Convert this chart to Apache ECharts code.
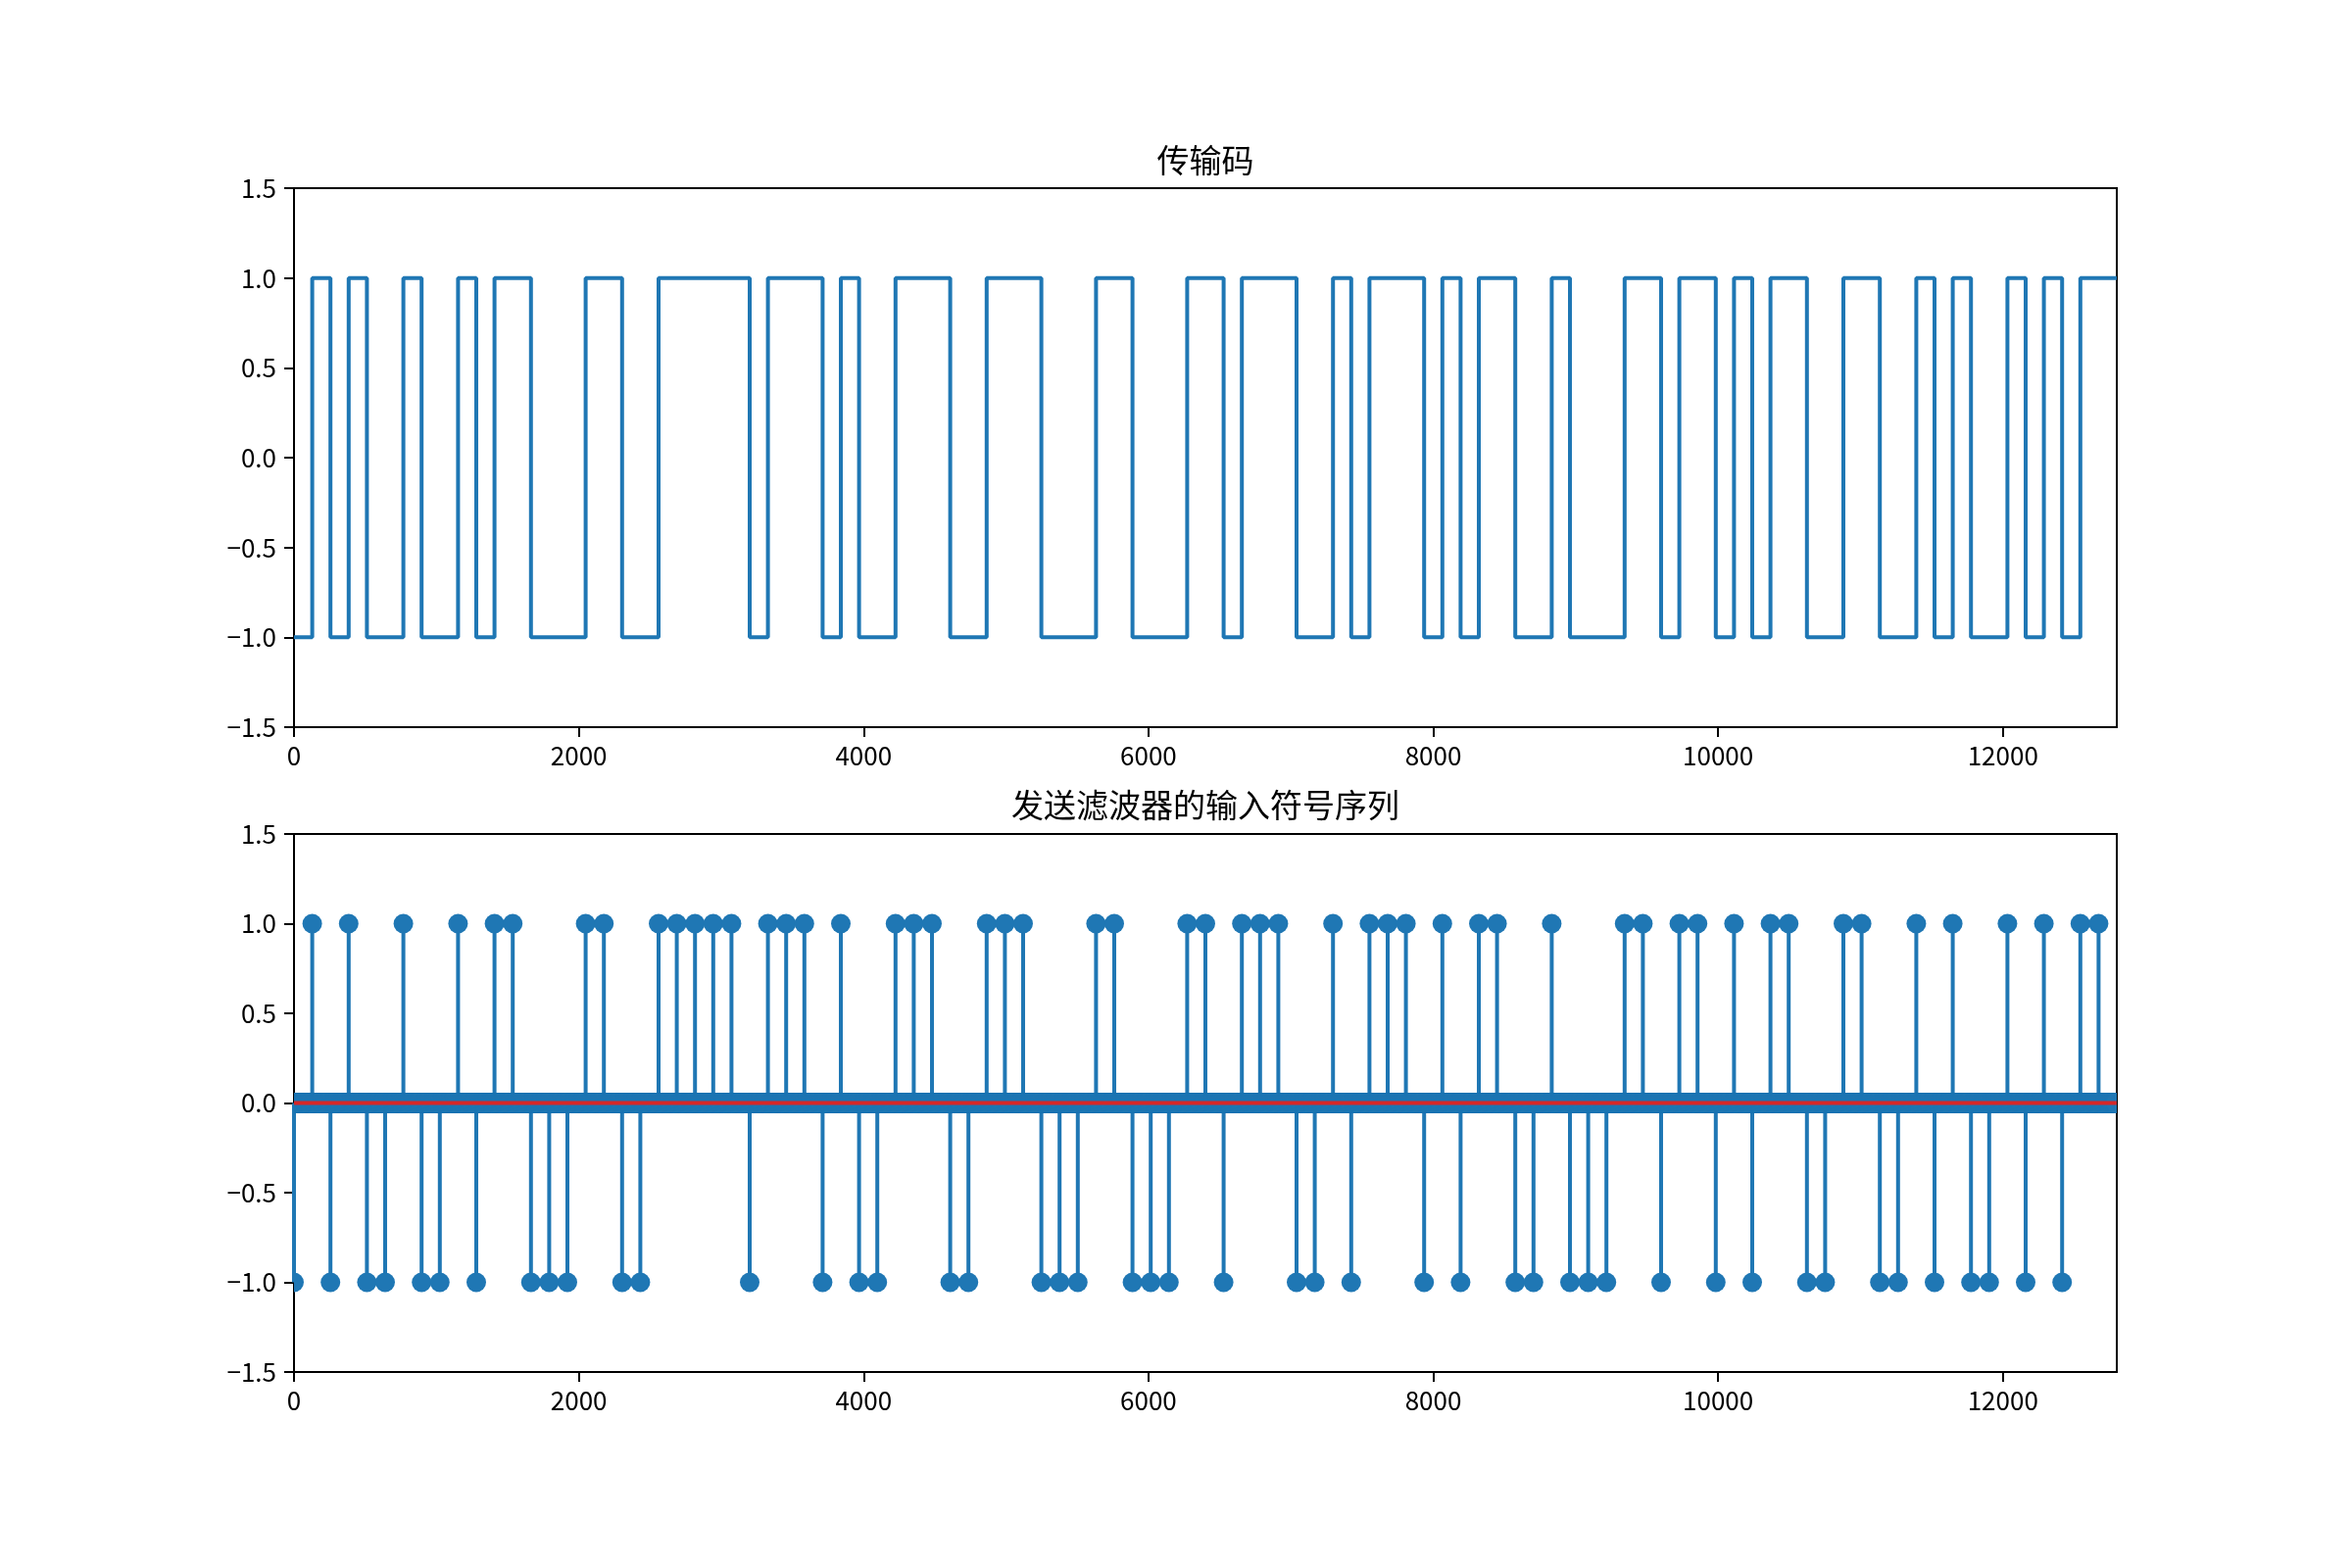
<!DOCTYPE html>
<html>
<head>
<meta charset="utf-8">
<script src="https://cdn.jsdelivr.net/npm/echarts@6/dist/echarts.min.js"></script>
<style>
  html, body { margin: 0; padding: 0; background: #fff; }
  #main { width: 2400px; height: 1600px; }
</style>
</head>
<body>
<div id="main"></div>
<script>
// symbol sequence (+1 / -1), one symbol every 128 samples
var symbols = [
  -1, 1,-1, 1,-1,-1, 1,-1,-1, 1,
  -1, 1, 1,-1,-1,-1, 1, 1,-1,-1,
   1, 1, 1, 1, 1,-1, 1, 1, 1,-1,
   1,-1,-1, 1, 1, 1,-1,-1, 1, 1,
   1,-1,-1,-1, 1, 1,-1,-1,-1, 1,
   1,-1, 1, 1, 1,-1,-1, 1,-1, 1,
   1, 1,-1, 1,-1, 1, 1,-1,-1, 1,
  -1,-1,-1, 1, 1,-1, 1, 1,-1, 1,
  -1, 1, 1,-1,-1, 1, 1,-1,-1, 1,
  -1, 1,-1,-1, 1,-1, 1,-1, 1, 1
];
var sps = 128;            // samples per symbol
var xTicks = [0, 2000, 4000, 6000, 8000, 10000, 12000];
var yTicks = [-1.5, -1.0, -0.5, 0.0, 0.5, 1.0, 1.5];
var titles = ['传输码', '发送滤波器的输入符号序列'];

var blue = '#1f77b4';
var red = '#d62728';
var font = '"Noto Sans CJK SC", "Noto Sans", sans-serif';

// transmitted code: each symbol held for sps samples
var codeLine = symbols.map(function (s, k) { return [k * sps, s]; });
codeLine.push([symbols.length * sps, symbols[symbols.length - 1]]);

// upsampled sequence: symbol at k*sps, zeros in between
var stems = symbols.map(function (s, k) { return [k * sps, s]; });
var zeros = [];
for (var k = 0; k < symbols.length; k++) {
  for (var j = 1; j < sps; j++) zeros.push([k * sps + j, 0]);
}
var nSamples = symbols.length * sps;

function xAxis(i) {
  return {
    type: 'value', gridIndex: i, min: 0, max: nSamples,
    splitLine: { show: false },
    axisLine: { onZero: false, lineStyle: { color: '#000', width: 2 } },
    axisTick: { inside: false, length: 10, lineStyle: { color: '#000', width: 2 }, customValues: xTicks },
    axisLabel: {
      customValues: xTicks, margin: 16, color: '#000', fontSize: 26, fontFamily: font,
      formatter: function (v) { return String(v); }
    }
  };
}
function yAxis(i) {
  return {
    type: 'value', gridIndex: i, min: -1.5, max: 1.5, interval: 0.5,
    splitLine: { show: false },
    axisLine: { show: true, onZero: false, lineStyle: { color: '#000', width: 2 } },
    axisTick: { inside: false, length: 10, lineStyle: { color: '#000', width: 2 }, customValues: yTicks },
    axisLabel: {
      customValues: yTicks, margin: 18, color: '#000', fontSize: 26, fontFamily: font,
      formatter: function (v) { return v.toFixed(1).replace('-', '\u2212'); }
    }
  };
}

// stem head marker; ones crossing the plot edge get clipped like matplotlib
function marker(params, api) {
  var p = api.coord([api.value(0), api.value(1)]);
  var r = 10;
  var cs = params.coordSys;
  var el = { type: 'circle', shape: { cx: p[0], cy: p[1], r: r }, style: { fill: blue } };
  if (p[0] - r < cs.x || p[0] + r > cs.x + cs.width) {
    el.clipPath = { type: 'rect', shape: { x: cs.x, y: cs.y, width: cs.width, height: cs.height } };
  }
  return el;
}

var option = {
  animation: false,
  backgroundColor: '#fff',
  title: [
    { text: titles[0], left: 1230, top: 147, textAlign: 'center', padding: 0,
      textStyle: { fontSize: 33, fontWeight: 'normal', color: '#000', fontFamily: font } },
    { text: titles[1], left: 1230, top: 805, textAlign: 'center', padding: 0,
      textStyle: { fontSize: 33, fontWeight: 'normal', color: '#000', fontFamily: font } }
  ],
  grid: [
    { left: 300, top: 192, width: 1860, height: 550, show: true, borderColor: '#000', borderWidth: 2 },
    { left: 300, top: 851, width: 1860, height: 549, show: true, borderColor: '#000', borderWidth: 2 }
  ],
  xAxis: [xAxis(0), xAxis(1)],
  yAxis: [yAxis(0), yAxis(1)],
  series: [
    {
      name: 'code', type: 'line', xAxisIndex: 0, yAxisIndex: 0,
      step: 'end', data: codeLine, showSymbol: false,
      lineStyle: { color: blue, width: 4 }
    },
    {
      name: 'stems', type: 'bar', xAxisIndex: 1, yAxisIndex: 1,
      data: stems, barWidth: 4, itemStyle: { color: blue }, z: 1
    },
    {
      name: 'zeros', type: 'custom', xAxisIndex: 1, yAxisIndex: 1,
      data: zeros, renderItem: marker, encode: { x: 0, y: 1 },
      progressive: 0, z: 2
    },
    {
      name: 'markers', type: 'custom', xAxisIndex: 1, yAxisIndex: 1,
      data: stems, renderItem: marker, encode: { x: 0, y: 1 },
      progressive: 0, z: 3
    },
    {
      name: 'baseline', type: 'line', xAxisIndex: 1, yAxisIndex: 1,
      data: [[0, 0], [nSamples - 1, 0]], showSymbol: false,
      lineStyle: { color: red, width: 4 }, z: 4
    }
  ]
};

var chart = echarts.init(document.getElementById('main'));
chart.setOption(option);
</script>
</body>
</html>
